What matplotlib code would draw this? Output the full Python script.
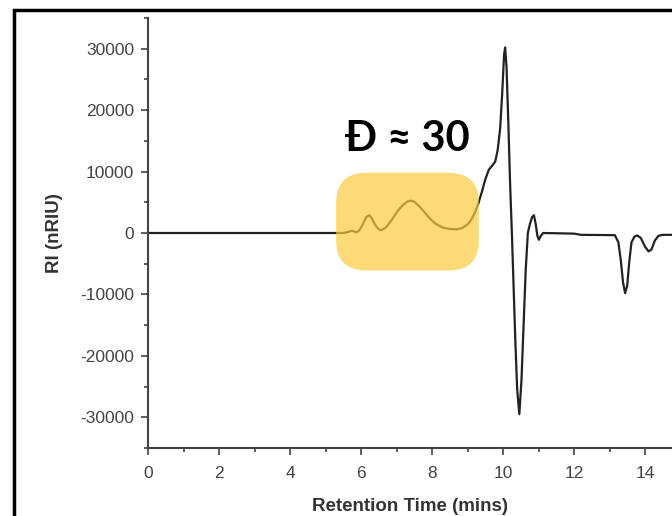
import matplotlib.pyplot as plt
from matplotlib.patches import FancyBboxPatch, Rectangle
from matplotlib.transforms import IdentityTransform

plt.rcParams['axes.unicode_minus'] = False

# retention time (mins) and RI signal (nRIU)
time = [0.0, 5.5, 5.6, 5.7, 5.75, 5.8, 5.87, 5.95, 6.05, 6.15, 6.23, 6.3, 6.4, 6.5,
        6.58, 6.7, 6.85, 7.0, 7.15, 7.3, 7.4, 7.5, 7.65, 7.8, 7.95, 8.1, 8.3, 8.5,
        8.7, 8.85, 9.0, 9.1, 9.2, 9.3, 9.4, 9.5, 9.6, 9.7, 9.78, 9.85, 9.92, 9.98,
        10.03, 10.06, 10.1, 10.15, 10.2, 10.25, 10.3, 10.35, 10.4, 10.46, 10.52,
        10.58, 10.64, 10.7, 10.76, 10.82, 10.87, 10.92, 10.97, 11.01, 11.06, 11.13,
        12.0, 12.2, 13.15, 13.25, 13.32, 13.38, 13.44, 13.5, 13.56, 13.62, 13.7,
        13.78, 13.88, 14.0, 14.1, 14.18, 14.28, 14.38, 14.5, 14.8]
signal = [0, 0, 100, 300, 350, 250, 100, 400, 1400, 2600, 2900, 2400, 1300, 600,
          450, 900, 2000, 3300, 4400, 5100, 5250, 5100, 4300, 3300, 2300, 1500, 900, 650,
          600, 800, 1400, 2100, 3200, 4700, 6600, 8700, 10300, 11000, 11600, 13500, 17000, 23000,
          29000, 30200, 27000, 18000, 8000, 0, -9000, -18000, -25500, -29500, -24000,
          -15000, -6000, 0, 1500, 2600, 2900, 1500, -500, -1100, -500, 0,
          -100, -300, -350, -1500, -4500, -8000, -9800, -8500, -4500, -1500, -600,
          -400, -800, -2200, -3000, -2700, -1200, -450, -300, -300]

x_ticks = [0, 2, 4, 6, 8, 10, 12, 14]
y_ticks = [-30000, -20000, -10000, 0, 10000, 20000, 30000]
box_x = [5.3, 9.32]
box_y = [-6100, 9800]
note = "Đ ≈ 30"

fig = plt.figure(figsize=(6.72, 5.16), dpi=100)
ax = fig.add_axes([148 / 672, 1 - 448 / 516, 1 - 148 / 672, (448 - 18) / 516])

ax.plot(time, signal, color='#222222', lw=1.6, zorder=2)

ax.set_xlim(0, (672 - 148) / 35.5)
ax.set_ylim(-35000, 35000)
ax.set_xticks(x_ticks)
ax.set_yticks(y_ticks)
ax.set_xticks(range(0, 15), minor=True)
ax.set_yticks(range(-35000, 35001, 5000), minor=True)
ax.tick_params(which='major', direction='out', length=5, width=1.2, color='#444444',
               labelsize=12.5, labelcolor='#444444')
ax.tick_params(axis='x', which='major', pad=8)
ax.tick_params(axis='y', which='major', pad=5)
ax.tick_params(which='minor', direction='out', length=3, width=1.2, color='#444444')
for lab in ax.get_xticklabels() + ax.get_yticklabels():
    lab.set_family('Liberation Sans')

for s in ['top', 'right']:
    ax.spines[s].set_visible(False)
for s in ['left', 'bottom']:
    ax.spines[s].set_color('#444444')
    ax.spines[s].set_linewidth(1.5)

ax.set_xlabel('Retention Time (mins)', fontsize=13.5, fontweight='bold', color='#333333',
              family='Liberation Sans', labelpad=12)
ax.set_ylabel('RI (nRIU)', fontsize=13.5, fontweight='bold', color='#333333',
              family='Liberation Sans', labelpad=12)

# rounded yellow highlight, drawn in pixels so the corners stay round
fig.canvas.draw()
(x0, y0), (x1, y1) = ax.transData.transform([(box_x[0], box_y[0]), (box_x[1], box_y[1])])
box = FancyBboxPatch((x0, y0), x1 - x0, y1 - y0,
                     boxstyle='round,pad=0,rounding_size=30',
                     transform=IdentityTransform(), facecolor='#FBCB3F', alpha=0.7,
                     edgecolor='none', zorder=3, clip_on=False)
fig.add_artist(box)

fig.text(407 / 672, 1 - 139 / 516, note, fontsize=30, fontweight='bold',
         family='Lato', ha='center', va='center', color='black')

# outer frame
fig.add_artist(Rectangle((14 / 672, -0.1), 1.2, 1.1 - 10 / 516,
                         transform=fig.transFigure, fill=False, edgecolor='black',
                         lw=2.5, zorder=10))

fig.savefig('out.png', dpi=100)
